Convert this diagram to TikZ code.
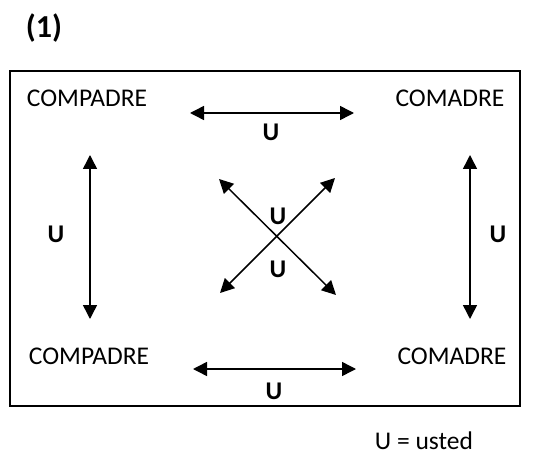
\documentclass[tikz,border=0pt]{standalone}
\usepackage{fontspec}
\setmainfont{Carlito}
\usetikzlibrary{arrows.meta}
\begin{document}
\begin{tikzpicture}[x=1pt,y=-1pt,
  every node/.style={inner sep=0pt,outer sep=0pt},
  word/.style={font=\fontsize{25.5}{28}\selectfont},
  ulabel/.style={font=\fontsize{25.5}{28}\selectfont\bfseries},
  heading/.style={font=\fontsize{32}{36}\selectfont\bfseries},
  rel/.style={line width=1.5pt,{Triangle[length=14pt,width=14pt]}-{Triangle[length=14pt,width=14pt]}},
  frame/.style={draw,line width=2pt}]
  \useasboundingbox (0,0) rectangle (540,454);
  % title
  \node[heading] (title) at (44,28) {(1)};
  % outer frame
  \draw[frame] (10,71) rectangle (520,406);
  % kinship terms in the four corners
  \node[word,anchor=base] (cpTL) at (87,107) {COMPADRE};
  \node[word,anchor=base] (cmTR) at (450,107) {COMADRE};
  \node[word,anchor=base] (cpBL) at (89,364) {COMPADRE};
  \node[word,anchor=base] (cmBR) at (452,364) {COMADRE};
  % arrow end points
  \coordinate (tA) at (190,113);  \coordinate (tB) at (354,113);
  \coordinate (bA) at (193,369);  \coordinate (bB) at (356,369);
  \coordinate (lA) at (90,155);   \coordinate (lB) at (90,319);
  \coordinate (rA) at (470,155);  \coordinate (rB) at (470,319);
  \coordinate (dTL) at (219,179); \coordinate (dBR) at (336,295);
  \coordinate (dTR) at (335,178); \coordinate (dBL) at (220,293);
  % reciprocal relations
  \draw[rel] (tA) -- (tB);
  \draw[rel] (bA) -- (bB);
  \draw[rel] (lA) -- (lB);
  \draw[rel] (rA) -- (rB);
  \draw[rel] (dTL) -- (dBR);
  \draw[rel] (dTR) -- (dBL);
  % labels
  \node[ulabel] (uT) at (271,132) {U};
  \node[ulabel] (uB) at (274,391) {U};
  \node[ulabel] (uL) at (56,234) {U};
  \node[ulabel] (uR) at (498,234) {U};
  \node[ulabel] (uX1) at (278,216) {U};
  \node[ulabel] (uX2) at (278,269) {U};
  % legend
  \node[word,anchor=base] (legend) at (424,449) {U = usted};
\end{tikzpicture}
\end{document}
